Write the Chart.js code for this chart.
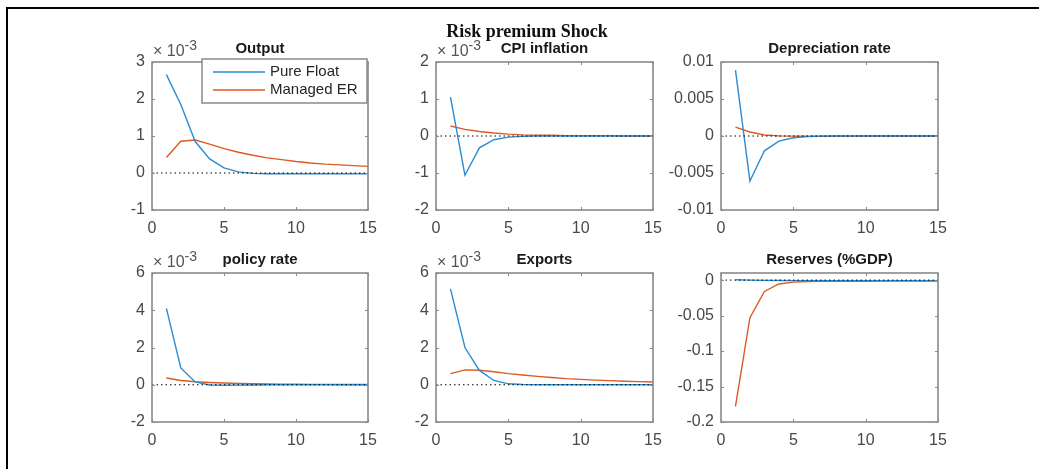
<!DOCTYPE html>
<html>
<head>
<meta charset="utf-8">
<script src="https://cdn.jsdelivr.net/npm/chart.js@4.4.0/dist/chart.umd.min.js"></script>
<style>
  body { margin: 0; background: #fff; width: 1039px; height: 469px; overflow: hidden; position: relative; }
  #frame { position: absolute; left: 6px; top: 7px; width: 1040px; height: 470px;
           border-top: 2px solid #000; border-left: 2px solid #000; }
  #suptitle { position: absolute; left: 427px; width: 200px; top: 21px; text-align: center;
              font: bold 18px "Liberation Serif", "Times New Roman", serif; line-height: 20px; color: #111; z-index: 2; }
  canvas { position: absolute; }
</style>
</head>
<body>
<div id="frame"></div>
<div id="suptitle">Risk premium Shock</div>
<canvas id="c1"></canvas>
<canvas id="c2"></canvas>
<canvas id="c3"></canvas>
<canvas id="c4"></canvas>
<canvas id="c5"></canvas>
<canvas id="c6"></canvas>
<script>
// --- Data ---
const periods = [1, 2, 3, 4, 5, 6, 7, 8, 9, 10, 11, 12, 13, 14, 15];
const xTicks = [0, 5, 10, 15];

// Output, CPI, policy rate and exports are in units of 1e-3 (axis shows x10^-3)
const outputFloat   = [2.66, 1.85, 0.85, 0.38, 0.14, 0.03, -0.01, -0.02, -0.02, -0.02, -0.02, -0.02, -0.02, -0.02, -0.02];
const outputManaged = [0.42, 0.86, 0.89, 0.78, 0.66, 0.56, 0.48, 0.41, 0.36, 0.31, 0.27, 0.24, 0.22, 0.20, 0.18];
const outputTicks = [-1, 0, 1, 2, 3];

const cpiFloat   = [1.05, -1.06, -0.32, -0.10, -0.03, -0.01, 0, 0, 0, 0, 0, 0, 0, 0, 0];
const cpiManaged = [0.27, 0.18, 0.12, 0.08, 0.05, 0.03, 0.02, 0.02, 0.01, 0.01, 0.01, 0.01, 0, 0, 0];
const cpiTicks = [-2, -1, 0, 1, 2];

const deprFloat   = [0.0089, -0.0061, -0.0020, -0.0007, -0.00023, -0.00008, -0.00002, 0, 0, 0, 0, 0, 0, 0, 0];
const deprManaged = [0.0012, 0.00054, 0.00014, 0.00002, -0.00002, -0.00003, -0.00003, -0.00002, -0.00002, -0.00001, -0.00001, 0, 0, 0, 0];
const deprTicks = [-0.01, -0.005, 0, 0.005, 0.01];

const policyFloat   = [4.1, 0.9, 0.15, -0.01, -0.03, -0.02, -0.01, 0, 0, 0, 0, 0, 0, 0, 0];
const policyManaged = [0.36, 0.23, 0.16, 0.12, 0.09, 0.07, 0.05, 0.04, 0.03, 0.03, 0.02, 0.02, 0.01, 0.01, 0.01];
const policyTicks = [-2, 0, 2, 4, 6];

const exportsFloat   = [5.15, 2.0, 0.77, 0.23, 0.05, 0.01, 0, 0, 0, 0, 0, 0, 0, 0, 0];
const exportsManaged = [0.60, 0.80, 0.78, 0.70, 0.60, 0.52, 0.45, 0.39, 0.33, 0.29, 0.25, 0.22, 0.19, 0.17, 0.15];
const exportsTicks = [-2, 0, 2, 4, 6];

const reservesFloat   = [0.0005, 0, -0.0004, -0.0006, -0.0007, -0.0008, -0.0008, -0.0008, -0.0008, -0.0008, -0.0008, -0.0008, -0.0008, -0.0008, -0.0008];
const reservesManaged = [-0.178, -0.053, -0.016, -0.0055, -0.0028, -0.0020, -0.0018, -0.0017, -0.0016, -0.0016, -0.0015, -0.0015, -0.0015, -0.0015, -0.0015];
const reservesTicks = [-0.2, -0.15, -0.1, -0.05, 0];

const seriesNames = ['Pure Float', 'Managed ER'];
const seriesColors = ['#2a8cd2', '#dc5a24'];

const FONT = '"Liberation Sans", Arial, sans-serif';
const AXIS_GREY = '#8a8a8a';
const LABEL_GREY = '#484848';

// Box, inward ticks (all four sides), panel title and x10^-3 marker
const panelDecor = {
    id: 'panelDecor',
    afterDraw(chart, args, opts) {
        const { ctx, chartArea: a, scales } = chart;
        ctx.save();
        ctx.strokeStyle = AXIS_GREY;
        ctx.lineWidth = 1;
        ctx.beginPath();
        scales.x.ticks.forEach(t => {
            const px = Math.round(scales.x.getPixelForValue(t.value)) + 0.5;
            ctx.moveTo(px, a.bottom); ctx.lineTo(px, a.bottom - 3);
            ctx.moveTo(px, a.top); ctx.lineTo(px, a.top + 3);
        });
        scales.y.ticks.forEach(t => {
            const py = Math.round(scales.y.getPixelForValue(t.value)) + 0.5;
            ctx.moveTo(a.left, py); ctx.lineTo(a.left + 3, py);
            ctx.moveTo(a.right, py); ctx.lineTo(a.right - 3, py);
        });
        ctx.stroke();
        ctx.lineWidth = 1.6;
        ctx.strokeRect(a.left, a.top, a.right - a.left, a.bottom - a.top);

        ctx.fillStyle = '#1a1a1a';
        ctx.font = 'bold 15px ' + FONT;
        ctx.textAlign = 'center';
        ctx.textBaseline = 'alphabetic';
        ctx.fillText(opts.title, (a.left + a.right) / 2, a.top - 9);

        if (opts.exponent) {
            ctx.fillStyle = '#555';
            ctx.textAlign = 'left';
            ctx.font = '16px ' + FONT;
            const base = '\u00d7 10';
            ctx.fillText(base, a.left + 1, a.top - 6);
            const w = ctx.measureText(base).width;
            ctx.font = '14px ' + FONT;
            ctx.fillText(opts.exponent, a.left + 1 + w, a.top - 12);
        }
        ctx.restore();
    }
};

// Boxed legend in the top-right corner of the first panel
const boxLegend = {
    id: 'boxLegend',
    afterDraw(chart) {
        const { ctx, chartArea: a } = chart;
        const x0 = a.left + 50, y0 = a.top - 3, x1 = a.right - 1, y1 = a.top + 41;
        ctx.save();
        ctx.fillStyle = '#fff';
        ctx.fillRect(x0, y0, x1 - x0, y1 - y0);
        ctx.strokeStyle = AXIS_GREY;
        ctx.lineWidth = 1.5;
        ctx.strokeRect(x0, y0, x1 - x0, y1 - y0);
        chart.data.datasets.filter(d => d.label).forEach((d, i) => {
            const y = y0 + 13 + i * 18;
            ctx.strokeStyle = d.borderColor;
            ctx.lineWidth = 1.4;
            ctx.beginPath();
            ctx.moveTo(x0 + 11, y); ctx.lineTo(x0 + 63, y);
            ctx.stroke();
            ctx.fillStyle = '#262626';
            ctx.font = '15px ' + FONT;
            ctx.textBaseline = 'middle';
            ctx.fillText(d.label, x0 + 68, y);
        });
        ctx.restore();
    }
};

function toPoints(values) {
    return values.map((v, i) => ({ x: periods[i], y: v }));
}

// rect = plot area in page pixels: [left, top, right, bottom]
function makePanel(id, rect, floatVals, managedVals, yTicks, yMax, title, exponent, withLegend) {
    const [L, T, R, B] = rect;
    const padL = 70, padT = 40, padR = 22, padB = 32;
    const canvas = document.getElementById(id);
    canvas.width = R - L + padL + padR;
    canvas.height = B - T + padT + padB;
    canvas.style.left = (L - padL) + 'px';
    canvas.style.top = (T - padT) + 'px';

    const plugins = [panelDecor];
    if (withLegend) plugins.push(boxLegend);

    new Chart(canvas, {
        type: 'line',
        data: {
            datasets: [
                {   // zero reference line (drawn on top)
                    data: [{ x: 0, y: 0 }, { x: 15, y: 0 }],
                    borderColor: '#000',
                    borderWidth: 1,
                    borderDash: [1.5, 3],
                    pointRadius: 0
                },
                {
                    label: seriesNames[0],
                    data: toPoints(floatVals),
                    borderColor: seriesColors[0],
                    borderWidth: 1.4,
                    pointRadius: 0,
                    tension: 0
                },
                {
                    label: seriesNames[1],
                    data: toPoints(managedVals),
                    borderColor: seriesColors[1],
                    borderWidth: 1.4,
                    pointRadius: 0,
                    tension: 0
                }
            ]
        },
        options: {
            responsive: false,
            animation: false,
            events: [],
            layout: { padding: { left: 0, top: padT, right: padR, bottom: 0 } },
            plugins: {
                legend: { display: false },
                tooltip: { enabled: false },
                panelDecor: { title: title, exponent: exponent }
            },
            scales: {
                x: {
                    type: 'linear',
                    min: 0, max: 15,
                    afterBuildTicks: s => { s.ticks = xTicks.map(v => ({ value: v })); },
                    afterFit: s => { s.height = padB; },
                    grid: { display: false, drawTicks: false },
                    border: { display: false },
                    ticks: { autoSkip: false, maxRotation: 0, padding: 9, color: LABEL_GREY,
                             font: { family: FONT, size: 16 }, callback: v => String(v) }
                },
                y: {
                    type: 'linear',
                    min: yTicks[0], max: yMax,
                    afterBuildTicks: s => { s.ticks = yTicks.map(v => ({ value: v })); },
                    afterFit: s => { s.width = padL; },
                    grid: { display: false, drawTicks: false },
                    border: { display: false },
                    ticks: { autoSkip: false, padding: 7, color: LABEL_GREY,
                             font: { family: FONT, size: 16 }, callback: v => String(v) }
                }
            }
        },
        plugins: plugins
    });
}

makePanel('c1', [152, 62, 368, 210], outputFloat, outputManaged, outputTicks, 3, 'Output', '-3', true);
makePanel('c2', [436, 62, 653, 210], cpiFloat, cpiManaged, cpiTicks, 2, 'CPI inflation', '-3', false);
makePanel('c3', [721, 62, 938, 210], deprFloat, deprManaged, deprTicks, 0.01, 'Depreciation rate', null, false);
makePanel('c4', [152, 273, 368, 422], policyFloat, policyManaged, policyTicks, 6, 'policy rate', '-3', false);
makePanel('c5', [436, 273, 653, 422], exportsFloat, exportsManaged, exportsTicks, 6, 'Exports', '-3', false);
makePanel('c6', [721, 273, 938, 422], reservesFloat, reservesManaged, reservesTicks, 0.01, 'Reserves (%GDP)', null, false);
</script>
</body>
</html>
